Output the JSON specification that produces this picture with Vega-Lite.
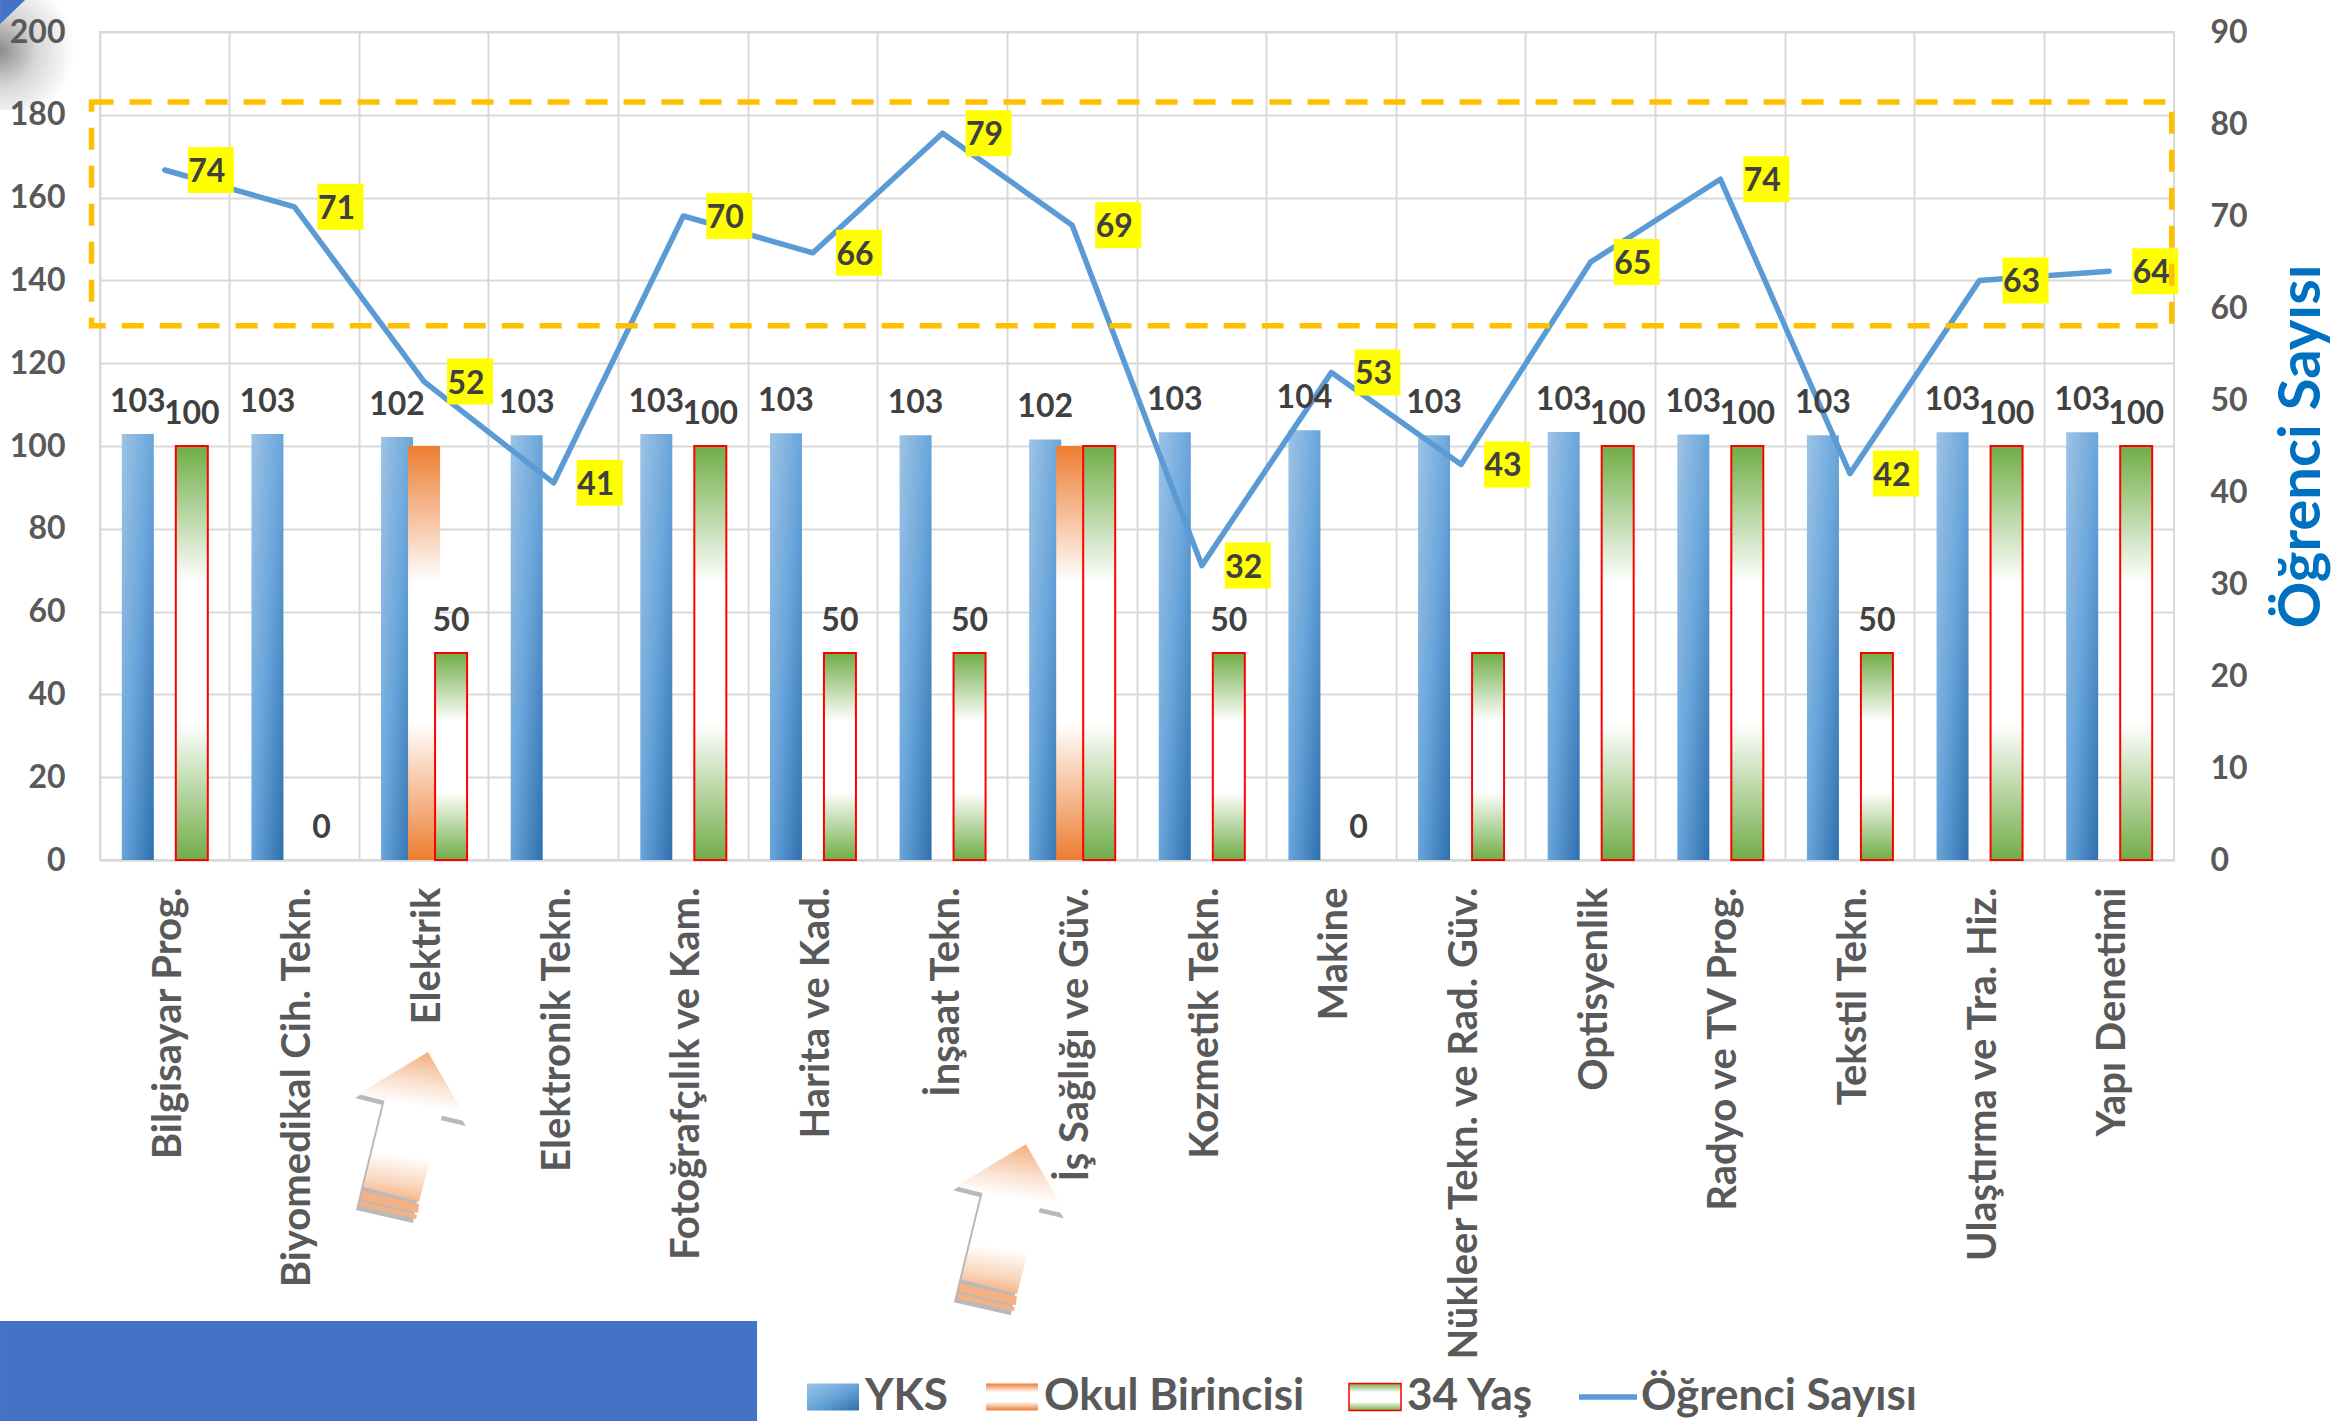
{"$schema":"https://vega.github.io/schema/vega-lite/v6.json","width":2074,"height":828,"autosize":{"type":"none"},"padding":{"left":100,"top":32,"right":174,"bottom":561},"background":"#ffffff","view":{"stroke":"#d9d9d9","strokeWidth":2},"config":{"font":"Lato"},"datasets":{"cubuklar":[{"kategori":"Bilgisayar Prog.","seri":"YKS","deger":102.9,"etiket":"103"},{"kategori":"Biyomedikal Cih. Tekn.","seri":"YKS","deger":102.9,"etiket":"103"},{"kategori":"Elektrik","seri":"YKS","deger":102.2,"etiket":"102"},{"kategori":"Elektronik Tekn.","seri":"YKS","deger":102.6,"etiket":"103"},{"kategori":"Fotoğrafçılık ve Kam.","seri":"YKS","deger":102.9,"etiket":"103"},{"kategori":"Harita ve Kad.","seri":"YKS","deger":103.1,"etiket":"103"},{"kategori":"İnşaat Tekn.","seri":"YKS","deger":102.6,"etiket":"103"},{"kategori":"İş Sağlığı ve Güv.","seri":"YKS","deger":101.6,"etiket":"102"},{"kategori":"Kozmetik Tekn.","seri":"YKS","deger":103.3,"etiket":"103"},{"kategori":"Makine","seri":"YKS","deger":103.8,"etiket":"104"},{"kategori":"Nükleer Tekn. ve Rad. Güv.","seri":"YKS","deger":102.6,"etiket":"103"},{"kategori":"Optisyenlik","seri":"YKS","deger":103.4,"etiket":"103"},{"kategori":"Radyo ve TV Prog.","seri":"YKS","deger":102.8,"etiket":"103"},{"kategori":"Tekstil Tekn.","seri":"YKS","deger":102.6,"etiket":"103"},{"kategori":"Ulaştırma ve Tra. Hiz.","seri":"YKS","deger":103.3,"etiket":"103"},{"kategori":"Yapı Denetimi","seri":"YKS","deger":103.3,"etiket":"103"},{"kategori":"Elektrik","seri":"Okul Birincisi","deger":100,"etiket":""},{"kategori":"İş Sağlığı ve Güv.","seri":"Okul Birincisi","deger":100,"etiket":""},{"kategori":"Bilgisayar Prog.","seri":"34 Yaş","deger":100,"etiket":"100"},{"kategori":"Biyomedikal Cih. Tekn.","seri":"34 Yaş","deger":0,"etiket":"0"},{"kategori":"Elektrik","seri":"34 Yaş","deger":50,"etiket":"50"},{"kategori":"Fotoğrafçılık ve Kam.","seri":"34 Yaş","deger":100,"etiket":"100"},{"kategori":"Harita ve Kad.","seri":"34 Yaş","deger":50,"etiket":"50"},{"kategori":"İnşaat Tekn.","seri":"34 Yaş","deger":50,"etiket":"50"},{"kategori":"İş Sağlığı ve Güv.","seri":"34 Yaş","deger":100,"etiket":""},{"kategori":"Kozmetik Tekn.","seri":"34 Yaş","deger":50,"etiket":"50"},{"kategori":"Makine","seri":"34 Yaş","deger":0,"etiket":"0"},{"kategori":"Nükleer Tekn. ve Rad. Güv.","seri":"34 Yaş","deger":50,"etiket":""},{"kategori":"Optisyenlik","seri":"34 Yaş","deger":100,"etiket":"100"},{"kategori":"Radyo ve TV Prog.","seri":"34 Yaş","deger":100,"etiket":"100"},{"kategori":"Tekstil Tekn.","seri":"34 Yaş","deger":50,"etiket":"50"},{"kategori":"Ulaştırma ve Tra. Hiz.","seri":"34 Yaş","deger":100,"etiket":"100"},{"kategori":"Yapı Denetimi","seri":"34 Yaş","deger":100,"etiket":"100"}],"ogrenci":[{"kategori":"Bilgisayar Prog.","sayi":75,"etiket":"74"},{"kategori":"Biyomedikal Cih. Tekn.","sayi":71,"etiket":"71"},{"kategori":"Elektrik","sayi":52,"etiket":"52"},{"kategori":"Elektronik Tekn.","sayi":41,"etiket":"41"},{"kategori":"Fotoğrafçılık ve Kam.","sayi":70,"etiket":"70"},{"kategori":"Harita ve Kad.","sayi":66,"etiket":"66"},{"kategori":"İnşaat Tekn.","sayi":79,"etiket":"79"},{"kategori":"İş Sağlığı ve Güv.","sayi":69,"etiket":"69"},{"kategori":"Kozmetik Tekn.","sayi":32,"etiket":"32"},{"kategori":"Makine","sayi":53,"etiket":"53"},{"kategori":"Nükleer Tekn. ve Rad. Güv.","sayi":43,"etiket":"43"},{"kategori":"Optisyenlik","sayi":65,"etiket":"65"},{"kategori":"Radyo ve TV Prog.","sayi":74,"etiket":"74"},{"kategori":"Tekstil Tekn.","sayi":42,"etiket":"42"},{"kategori":"Ulaştırma ve Tra. Hiz.","sayi":63,"etiket":"63"},{"kategori":"Yapı Denetimi","sayi":64,"etiket":"64"}],"oklar":[{"px":15.09,"py":-32.25},{"px":43.92,"py":-43.39}]},"layer":[{"data":{"values":[{"x0":-8.44,"x1":-1.2,"y0":90.58,"y1":105.07}]},"mark":{"type":"rect","fill":{"gradient":"radial","x1":0.5,"y1":0.5,"r1":0,"x2":0.5,"y2":0.5,"r2":0.5,"stops":[{"offset":0,"color":"#8c8c8c"},{"offset":0.5,"color":"#d8d8d8"},{"offset":1,"color":"#ffffff"}]}},"encoding":{"x":{"field":"x0","type":"quantitative","scale":{"domain":[0,100],"nice":false,"zero":false},"axis":null},"x2":{"field":"x1"},"y":{"field":"y0","type":"quantitative","scale":{"domain":[0,100],"nice":false,"zero":false},"axis":null},"y2":{"field":"y1"}}},{"data":{"values":[{"x0":-4.82,"y0":103.86}]},"mark":{"type":"point","filled":true,"opacity":1,"fill":"#4472c4","size":4,"shape":"M0,0H25L0,24Z"},"encoding":{"x":{"field":"x0","type":"quantitative","scale":{"domain":[0,100],"nice":false,"zero":false},"axis":null},"y":{"field":"y0","type":"quantitative","scale":{"domain":[0,100],"nice":false,"zero":false},"axis":null}}},{"data":{"values":[{"x0":-4.82,"x1":31.68,"y0":-67.75,"y1":-55.68}]},"mark":{"type":"rect","fill":"#4472c4"},"encoding":{"x":{"field":"x0","type":"quantitative","scale":{"domain":[0,100],"nice":false,"zero":false},"axis":null},"x2":{"field":"x1"},"y":{"field":"y0","type":"quantitative","scale":{"domain":[0,100],"nice":false,"zero":false},"axis":null},"y2":{"field":"y1"}}},{"data":{"name":"cubuklar"},"transform":[{"filter":"datum.seri === 'YKS'"}],"mark":{"type":"bar","width":32,"fill":{"gradient":"linear","x1":0,"y1":0,"x2":1,"y2":1,"stops":[{"offset":0,"color":"#9dc3e6"},{"offset":0.5,"color":"#69a5da"},{"offset":1,"color":"#2e6fae"}]}},"encoding":{"x":{"field":"kategori","type":"nominal","sort":null,"scale":{"type":"band","paddingInner":0,"paddingOuter":0},"axis":{"title":null,"bandPosition":0,"grid":true,"gridColor":"#d9d9d9","gridWidth":2,"ticks":false,"domain":true,"domainColor":"#d9d9d9","domainWidth":2,"labelAngle":270,"labelAlign":"right","labelBaseline":"middle","labelPadding":27,"labelOffset":4,"labelLimit":1000,"labelOverlap":false,"labelFont":"Lato","labelFontWeight":"bold","labelFontSize":40,"labelColor":"#595959"}},"xOffset":{"field":"seri","type":"nominal","scale":{"domain":["YKS","Okul Birincisi","34 Yaş"],"paddingOuter":0.9,"paddingInner":0}},"y":{"field":"deger","type":"quantitative","scale":{"domain":[0,200],"nice":false},"axis":{"title":null,"values":[0,20,40,60,80,100,120,140,160,180,200],"orient":"left","grid":true,"gridColor":"#d9d9d9","gridWidth":2,"ticks":false,"domain":false,"labels":false}},"opacity":{"datum":"YKS","type":"nominal","scale":{"domain":["YKS"],"range":[1]},"legend":{"title":null,"orient":"none","legendX":706,"legendY":1338,"symbolType":"M-1,-0.52H1V0.52H-1Z","symbolSize":2704,"symbolOpacity":1,"labelOffset":5,"labelFont":"Lato","labelFontWeight":"bold","labelFontSize":44,"labelColor":"#595959","labelLimit":600}}}},{"data":{"name":"cubuklar"},"transform":[{"filter":"datum.seri === 'Okul Birincisi'"}],"mark":{"type":"bar","width":32,"fill":{"gradient":"linear","x1":0,"y1":0,"x2":0,"y2":1,"stops":[{"offset":0,"color":"#ed7d31"},{"offset":0.33,"color":"#ffffff"},{"offset":0.67,"color":"#ffffff"},{"offset":1,"color":"#ed7d31"}]}},"encoding":{"x":{"field":"kategori","type":"nominal","sort":null,"scale":{"type":"band","paddingInner":0,"paddingOuter":0,"domain":["Bilgisayar Prog.","Biyomedikal Cih. Tekn.","Elektrik","Elektronik Tekn.","Fotoğrafçılık ve Kam.","Harita ve Kad.","İnşaat Tekn.","İş Sağlığı ve Güv.","Kozmetik Tekn.","Makine","Nükleer Tekn. ve Rad. Güv.","Optisyenlik","Radyo ve TV Prog.","Tekstil Tekn.","Ulaştırma ve Tra. Hiz.","Yapı Denetimi"]},"axis":null},"xOffset":{"field":"seri","type":"nominal","scale":{"domain":["YKS","Okul Birincisi","34 Yaş"],"paddingOuter":0.9,"paddingInner":0}},"y":{"field":"deger","type":"quantitative","scale":{"domain":[0,200],"nice":false},"axis":null},"opacity":{"datum":"Okul Birincisi","type":"nominal","scale":{"domain":["Okul Birincisi"],"range":[1]},"legend":{"title":null,"orient":"none","legendX":885,"legendY":1338,"symbolType":"M-1,-0.52H1V0.52H-1Z","symbolSize":2704,"symbolOpacity":1,"labelOffset":5,"labelFont":"Lato","labelFontWeight":"bold","labelFontSize":44,"labelColor":"#595959","labelLimit":600}}}},{"data":{"name":"cubuklar"},"transform":[{"filter":"datum.seri === '34 Yaş' && datum.deger > 0"}],"mark":{"type":"bar","width":32,"stroke":"#ff0000","strokeWidth":2,"fill":{"gradient":"linear","x1":0,"y1":0,"x2":0,"y2":1,"stops":[{"offset":0,"color":"#70ad47"},{"offset":0.33,"color":"#ffffff"},{"offset":0.67,"color":"#ffffff"},{"offset":1,"color":"#70ad47"}]}},"encoding":{"x":{"field":"kategori","type":"nominal","sort":null,"scale":{"type":"band","paddingInner":0,"paddingOuter":0,"domain":["Bilgisayar Prog.","Biyomedikal Cih. Tekn.","Elektrik","Elektronik Tekn.","Fotoğrafçılık ve Kam.","Harita ve Kad.","İnşaat Tekn.","İş Sağlığı ve Güv.","Kozmetik Tekn.","Makine","Nükleer Tekn. ve Rad. Güv.","Optisyenlik","Radyo ve TV Prog.","Tekstil Tekn.","Ulaştırma ve Tra. Hiz.","Yapı Denetimi"]},"axis":null},"xOffset":{"field":"seri","type":"nominal","scale":{"domain":["YKS","Okul Birincisi","34 Yaş"],"paddingOuter":0.9,"paddingInner":0}},"y":{"field":"deger","type":"quantitative","scale":{"domain":[0,200],"nice":false},"axis":null},"opacity":{"datum":"34 Yaş","type":"nominal","scale":{"domain":["34 Yaş"],"range":[1]},"legend":{"title":null,"orient":"none","legendX":1248,"legendY":1338,"symbolType":"M-1,-0.52H1V0.52H-1Z","symbolSize":2704,"symbolOpacity":1,"labelOffset":5,"labelFont":"Lato","labelFontWeight":"bold","labelFontSize":44,"labelColor":"#595959","labelLimit":600}}}},{"data":{"name":"ogrenci"},"mark":{"type":"line","strokeWidth":5.5,"strokeCap":"round","strokeJoin":"round"},"encoding":{"x":{"field":"kategori","type":"nominal","sort":null,"scale":{"type":"band","paddingInner":0,"paddingOuter":0},"axis":null},"y":{"field":"sayi","type":"quantitative","scale":{"domain":[0,90],"nice":false},"axis":{"title":"Öğrenci Sayısı","orient":"right","values":[0,10,20,30,40,50,60,70,80,90],"grid":false,"ticks":false,"domain":false,"labelPadding":36,"labelFont":"Lato","labelFontWeight":"bold","labelFontSize":32,"labelColor":"#595959","titleFont":"Lato","titleFontWeight":"bold","titleFontSize":58,"titleColor":"#0070c0","titleAngle":270,"titleBaseline":"top","titlePadding":26}},"stroke":{"datum":"Öğrenci Sayısı","type":"nominal","scale":{"domain":["Öğrenci Sayısı"],"range":["#5b9bd5"]},"legend":{"title":null,"orient":"none","legendX":1476,"legendY":1333,"symbolType":"stroke","symbolSize":3364,"symbolStrokeWidth":5.5,"labelOffset":1,"labelFont":"Lato","labelFontWeight":"bold","labelFontSize":44,"labelColor":"#595959","labelLimit":600}}}},{"data":{"name":"ogrenci"},"mark":{"type":"point","filled":true,"opacity":1,"fill":"#ffff00","size":4,"xOffset":46,"shape":"M-23,-23H23V23H-23Z"},"encoding":{"x":{"field":"kategori","type":"nominal","sort":null,"scale":{"type":"band","paddingInner":0,"paddingOuter":0},"axis":null},"y":{"field":"sayi","type":"quantitative","scale":{"domain":[0,90],"nice":false},"axis":null}}},{"data":{"name":"ogrenci"},"mark":{"type":"text","dx":42,"dy":2,"align":"center","baseline":"middle","font":"Lato","fontWeight":"bold","fontSize":32,"fill":"#404040"},"encoding":{"x":{"field":"kategori","type":"nominal","sort":null,"scale":{"type":"band","paddingInner":0,"paddingOuter":0},"axis":null},"y":{"field":"sayi","type":"quantitative","scale":{"domain":[0,90],"nice":false},"axis":null},"text":{"field":"etiket"}}},{"data":{"name":"cubuklar"},"mark":{"type":"text","dy":-22,"align":"center","baseline":"alphabetic","font":"Lato","fontWeight":"bold","fontSize":32,"fill":"#404040"},"encoding":{"x":{"field":"kategori","type":"nominal","sort":null,"scale":{"type":"band","paddingInner":0,"paddingOuter":0},"axis":null},"xOffset":{"field":"seri","type":"nominal","scale":{"type":"point","domain":["YKS","Okul Birincisi","34 Yaş"],"padding":0,"range":[37.8,91.8]}},"y":{"field":"deger","type":"quantitative","scale":{"domain":[0,200],"nice":false},"axis":{"title":null,"values":[0,20,40,60,80,100,120,140,160,180,200],"orient":"left","grid":false,"ticks":false,"domain":false,"zindex":1,"labelPadding":35,"labelFont":"Lato","labelFontWeight":"bold","labelFontSize":32,"labelColor":"#595959"}},"text":{"field":"etiket"}}},{"data":{"values":[{"x0":-0.41,"x1":99.89,"y0":64.53,"y1":91.55}]},"mark":{"type":"rect","fill":"transparent","stroke":"#ffc000","strokeWidth":5.5,"strokeDash":[22,16]},"encoding":{"x":{"field":"x0","type":"quantitative","scale":{"domain":[0,100],"nice":false,"zero":false},"axis":null},"x2":{"field":"x1"},"y":{"field":"y0","type":"quantitative","scale":{"domain":[0,100],"nice":false,"zero":false},"axis":null},"y2":{"field":"y1"}}},{"data":{"name":"oklar"},"mark":{"type":"point","filled":true,"opacity":0.55,"fill":"#7f7f7f","size":4,"xOffset":-3,"yOffset":4,"shape":"M15,-75L-55,-33L-28.4,-26.3L-49.5,60L-54,79L3,92L6,74.7L29,-11.3L55.8,-5Z"},"encoding":{"x":{"field":"px","type":"quantitative","scale":{"domain":[0,100],"nice":false,"zero":false},"axis":null},"y":{"field":"py","type":"quantitative","scale":{"domain":[0,100],"nice":false,"zero":false},"axis":null}}},{"data":{"name":"oklar"},"mark":{"type":"point","filled":true,"opacity":1,"fill":"#f4b183","size":4,"shape":"M-51,64L6,77L5,86L-52,72.5ZM-53,74L4,88L3,92L-54,79Z"},"encoding":{"x":{"field":"px","type":"quantitative","scale":{"domain":[0,100],"nice":false,"zero":false},"axis":null},"y":{"field":"py","type":"quantitative","scale":{"domain":[0,100],"nice":false,"zero":false},"axis":null}}},{"data":{"name":"oklar"},"mark":{"type":"point","filled":true,"opacity":1,"size":4,"fill":{"gradient":"linear","x1":0.55,"y1":0,"x2":0.45,"y2":1,"stops":[{"offset":0,"color":"#f4b183"},{"offset":0.22,"color":"#fbe5d6"},{"offset":0.36,"color":"#ffffff"},{"offset":0.7,"color":"#ffffff"},{"offset":0.9,"color":"#f9d3b8"},{"offset":1,"color":"#f4b183"}]},"shape":"M15,-75L-55,-33L-28.4,-26.3L-49.5,60L6,74.7L29,-11.3L55.8,-5Z"},"encoding":{"x":{"field":"px","type":"quantitative","scale":{"domain":[0,100],"nice":false,"zero":false},"axis":null},"y":{"field":"py","type":"quantitative","scale":{"domain":[0,100],"nice":false,"zero":false},"axis":null}}}],"resolve":{"scale":{"x":"independent","y":"independent","xOffset":"independent","opacity":"independent","stroke":"independent"},"axis":{"x":"independent","y":"independent"},"legend":{"opacity":"independent","stroke":"independent"}}}
